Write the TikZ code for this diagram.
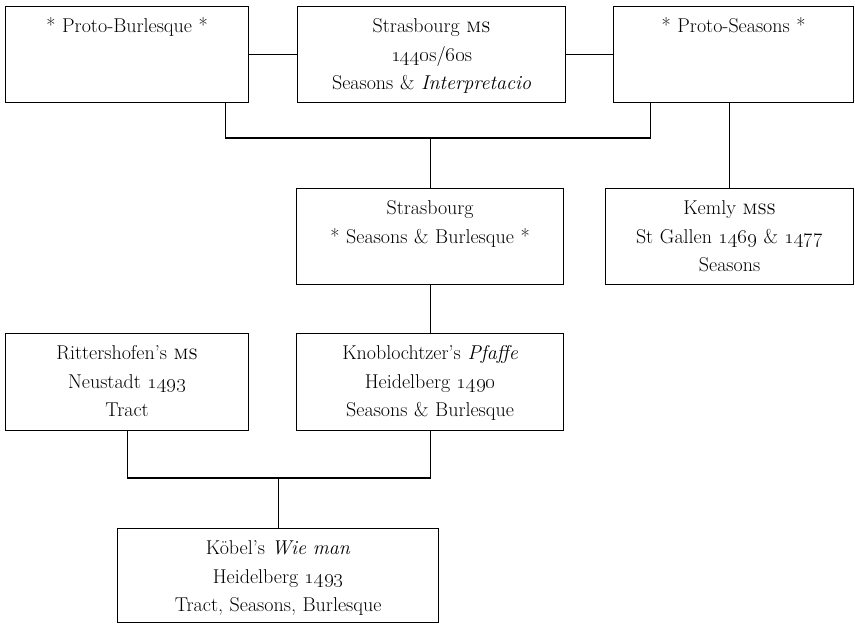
\documentclass[tikz,border=0pt]{standalone}
\usepackage{tikz}

\begin{document}
\begin{tikzpicture}[
	x=1pt, y=-1pt,
	box/.style={
		draw,
		anchor=north west,
		align=center,
		inner xsep=0pt,
		inner ysep=8pt,
		text height=18pt,
		font=\fontsize{20}{28.5}\selectfont
	},
	link/.style={
		line width=1.2pt
	},
	every node/.append style={line width=1.2pt}
	]
	\useasboundingbox (0,0) rectangle (855,624);
	
	% top row
	\node[box, text width=243pt, text depth=62pt] (protoburl) at (5,6)
	{* Proto-Burlesque *};
	
	\node[box, text width=268pt, text depth=62pt] (strasms) at (297,6)
	{Strasbourg \textsc{ms}\\ \oldstylenums{1440}s/\oldstylenums{60}s\\ Seasons \& \textit{Interpretacio}};
	
	\node[box, text width=240pt, text depth=62pt] (protoseas) at (613,6)
	{* Proto-Seasons *};
	
	% second row
	\node[box, text width=267pt, text depth=62pt] (strasb) at (296,188)
	{Strasbourg\\{}* Seasons \& Burlesque *};
	
	\node[box, text width=248pt, text depth=62pt] (kemly) at (605,188)
	{Kemly \textsc{mss}\\ St Gallen \oldstylenums{1469} \& \oldstylenums{1477}\\ Seasons};
	
	% third row
	\node[box, text width=243pt, text depth=63pt] (ritter) at (5,333)
	{Rittershofen's \textsc{ms}\\ Neustadt \oldstylenums{1493}\\ Tract};
	
	\node[box, text width=267pt, text depth=63pt] (knobl) at (296,333)
	{Knoblochtzer's \textit{Pfaffe}\\ Heidelberg \oldstylenums{1490}\\ Seasons \& Burlesque};
	
	% bottom
	\node[box, text width=321pt, text depth=60pt] (koebel) at (117,528)
	{K\"obel's \textit{Wie man}\\ Heidelberg \oldstylenums{1493}\\ Tract, Seasons, Burlesque};
	
	% junctions
	\path (strasb.north) ++(0,-50) coordinate (jtop);
	\path (koebel.north) ++(0,-50) coordinate (jbot);
	
	% connectors
	\draw[link] (protoburl) -- (strasms);
	\draw[link] (strasms) -- (protoseas);
	
	\draw[link] ([xshift=98pt]protoburl.south) |- (jtop) -| ([xshift=-83pt]protoseas.south);
	\draw[link] (jtop) -- (strasb.north);
	\draw[link] (protoseas.south -| kemly.north) -- (kemly.north);
	
	\draw[link] (strasb) -- (knobl);
	
	\draw[link] (ritter.south) |- (jbot) -| (knobl.south);
	\draw[link] (jbot) -- (koebel.north);
	
\end{tikzpicture}
\end{document}
